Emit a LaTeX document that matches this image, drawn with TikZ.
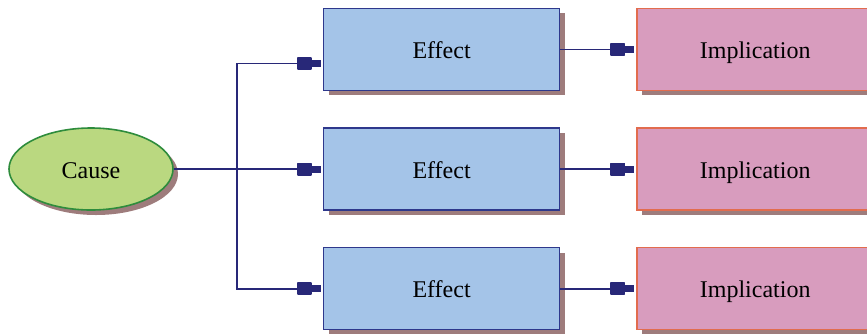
\documentclass[tikz,border=0pt]{standalone}
\usepackage{fontspec}
\setmainfont{Liberation Serif}
\usepackage{tikz}
\usetikzlibrary{positioning}
\usetikzlibrary{shapes.geometric}
\usetikzlibrary{shadows}
\usetikzlibrary{arrows.meta}
\definecolor{causegreen}{RGB}{186, 216, 128}
\definecolor{causeline}{RGB}{46, 140, 60}
\definecolor{effectblue}{RGB}{164, 196, 232}
\definecolor{effectline}{RGB}{46, 56, 140}
\definecolor{implpink}{RGB}{216, 156, 190}
\definecolor{implline}{RGB}{226, 108, 78}
\definecolor{shadowbrown}{RGB}{158, 124, 124}
\definecolor{linknavy}{RGB}{40, 40, 120}
\tikzset{
  basenode/.style = {draw, line width=0.8pt, inner sep=0pt,
                     font=\fontsize{12}{14}\selectfont,
                     text height=10.5pt, text depth=1.5pt,
                     drop shadow={shadow xshift=2.5pt, shadow yshift=-2.5pt,
                                  fill=shadowbrown, opacity=1}},
  cause/.style    = {basenode, ellipse, draw=causeline, fill=causegreen,
                     minimum width=82pt, minimum height=41pt},
  effect/.style   = {basenode, rectangle, draw=effectline, fill=effectblue,
                     minimum width=118pt, minimum height=41pt},
  impl/.style     = {basenode, rectangle, draw=implline, fill=implpink,
                     minimum width=118pt, minimum height=41pt},
  trunk/.style    = {linknavy, line width=0.9pt},
  link/.style     = {trunk, shorten >=1pt,
                     -{Rectangle[length=7.5pt,width=6.5pt,round] Rectangle[length=4.5pt,width=3.5pt]}}
}
\begin{document}
\begin{tikzpicture}
  \useasboundingbox (0,0) rectangle (433.5pt,-166.5pt);
  \node [cause] (c) at (45.5pt,-84.5pt) {Cause};
  \node [effect] (e2) [right=74.5pt of c] {Effect};
  \node [effect] (e1) [above=18pt of e2] {Effect};
  \node [effect] (e3) [below=18pt of e2] {Effect};
  \node [impl] (i1) [right=38pt of e1] {Implication};
  \node [impl] (i2) [right=38pt of e2] {Implication};
  \node [impl] (i3) [right=38pt of e3] {Implication};
  \coordinate (split) at ([xshift=31.5pt]c.east);
  \draw [trunk] (c.east) -- (split);
  \draw [link] (split) |- ([yshift=-7pt]e1.west);
  \draw [link] (split) -- (e2.west);
  \draw [link] (split) |- (e3.west);
  \draw [link] (e1) -- (i1);
  \draw [link] (e2) -- (i2);
  \draw [link] (e3) -- (i3);
\end{tikzpicture}
\end{document}
